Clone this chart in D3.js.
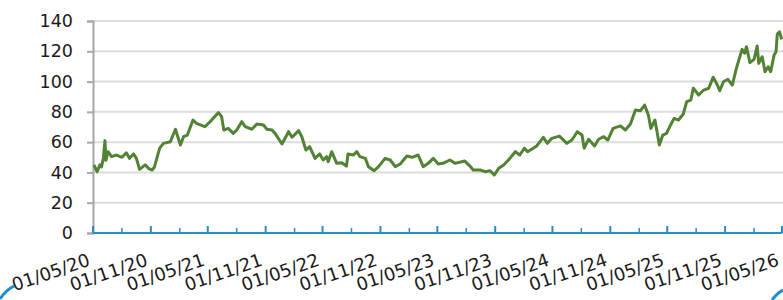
<!DOCTYPE html>
<html>
<head>
<meta charset="utf-8">
<script src="https://cdn.jsdelivr.net/npm/d3@7"></script>
<style>
  body { margin: 0; background: #fff; }
  svg { display: block; font-family: "DejaVu Sans", sans-serif; }
</style>
</head>
<body>
<svg width="783" height="300"></svg>
<script>
// values
let dates = [
  "2020-05-04","2020-05-14","2020-05-23","2020-05-28","2020-06-03","2020-06-08","2020-06-11","2020-06-18","2020-06-29","2020-07-15",
  "2020-08-01","2020-08-15","2020-08-25","2020-09-07","2020-09-16","2020-09-26","2020-10-14","2020-10-24","2020-11-05","2020-11-12",
  "2020-11-29","2020-12-11","2021-01-02","2021-01-18","2021-02-03","2021-02-13","2021-02-25","2021-03-15","2021-03-26","2021-04-22",
  "2021-05-08","2021-06-04","2021-06-14","2021-06-21","2021-07-05","2021-07-21","2021-08-01","2021-08-17","2021-08-28","2021-09-18",
  "2021-10-04","2021-10-25","2021-11-05","2021-11-21","2021-12-01","2021-12-23","2022-01-13","2022-01-24","2022-02-14","2022-02-24",
  "2022-03-09","2022-03-21","2022-04-07","2022-04-22","2022-05-03","2022-05-14","2022-05-19","2022-05-30","2022-06-15","2022-07-01",
  "2022-07-16","2022-07-21","2022-08-07","2022-08-18","2022-08-28","2022-09-14","2022-09-24","2022-10-12","2022-10-26","2022-11-16",
  "2022-12-02","2022-12-18","2023-01-03","2023-01-24","2023-02-10","2023-03-01","2023-03-17","2023-04-02","2023-04-18","2023-05-04",
  "2023-05-19","2023-06-10","2023-06-26","2023-07-27","2023-08-13","2023-08-23","2023-09-14","2023-09-30","2023-10-16","2023-10-29",
  "2023-11-12","2023-11-28","2023-12-13","2024-01-04","2024-01-18","2024-02-02","2024-02-12","2024-03-12","2024-04-02","2024-04-15",
  "2024-04-29","2024-05-23","2024-06-16","2024-07-02","2024-07-19","2024-08-03","2024-08-10","2024-08-24","2024-09-12","2024-09-25",
  "2024-10-11","2024-10-24","2024-11-10","2024-12-03","2024-12-19","2025-01-04","2025-01-20","2025-02-05","2025-02-18","2025-03-02",
  "2025-03-10","2025-03-23","2025-04-06","2025-04-17","2025-04-29","2025-05-10","2025-05-23","2025-06-06","2025-06-21","2025-07-02",
  "2025-07-15","2025-07-23","2025-08-09","2025-08-25","2025-09-10","2025-09-24","2025-10-06","2025-10-15","2025-10-27","2025-11-10",
  "2025-11-24","2025-12-07","2025-12-25","2026-01-02","2026-01-08","2026-01-19","2026-02-01","2026-02-11","2026-02-16","2026-02-27",
  "2026-03-08","2026-03-18","2026-03-26","2026-04-06","2026-04-12","2026-04-16","2026-04-23","2026-04-30"
];
let prices = [
  44.9,40.5,45,43.6,49.3,61,48,53.7,50.4,51.5,
  50,53,49.3,52.2,49.3,42,45,42.7,41.6,43.4,
  56,59.2,60.3,68.5,58.1,63.6,64.7,74.6,72.4,70.2,
  73.5,79.5,76.8,68,69.1,65.8,68,73.5,70.2,68.5,
  72,71.3,68.5,68,65.8,58.8,66.9,63.2,67.6,63.6,
  54.8,57,49.3,52.2,48.2,50.4,47.1,53.7,46,46.4,
  44.2,52.2,51.5,53.7,50.4,49.3,43.8,41.1,43.8,49.3,
  48.2,43.8,45.6,50.9,50,51.5,43.8,46,49.3,45.6,
  46,48.2,46,47.5,44.2,41.6,41.6,40.5,41.1,38.3,
  42.7,44.9,48.2,53.7,51.5,56,53.7,57.5,63.2,59.2,
  62.5,64,59.2,61.4,66.9,64.7,56,61.9,57.5,61.9,
  63.6,61.4,69.1,70.7,68,72,81.2,80.8,84.5,77.9,
  69.1,74.6,58.1,64.7,65.8,70.7,75.7,74.6,78.6,86.7,
  87.8,95.6,91.1,94.4,95.6,102.8,98.4,94,99.9,101.5,
  97.7,108.8,121.3,118.7,123,112.5,114.7,123.5,112,116.4,
  106.5,109.8,106.5,117.6,119.7,131.4,132.9,127.9
];
let yTicks = [0, 20, 40, 60, 80, 100, 120, 140];
let xStart = "2020-05-01", xEnd = "2026-05-01";

let parse = d3.timeParse("%Y-%m-%d"),
    fmt = d3.timeFormat("%d/%m/%y");
let data = dates.map((d, i) => ({date: parse(d), value: prices[i]}));

let svg = d3.select("svg");
let x = d3.scaleTime().domain([parse(xStart), parse(xEnd)]).range([93, 782]);
let y = d3.scaleLinear().domain([0, 140]).range([233, 21]);

// every 6 months from the start date, minor ticks in between
let allTicks = d3.timeMonth.range(parse(xStart), d3.timeDay.offset(parse(xEnd), 1), 3);
let majorTicks = allTicks.filter((d, i) => i % 2 == 0),
    minorTicks = allTicks.filter((d, i) => i % 2 == 1);

// grid
svg.append("g")
  .selectAll("line")
  .data(yTicks.filter(d => d > 0))
  .join("line")
  .attr("x1", 93).attr("x2", 783)
  .attr("y1", d => y(d)).attr("y2", d => y(d))
  .attr("stroke", "#dcdcdc").attr("stroke-width", 2);

// y axis
let yAxis = svg.append("g")
  .attr("transform", "translate(93,0)")
  .call(d3.axisLeft(y).tickValues(yTicks).tickSize(6).tickPadding(14));
yAxis.attr("font-family", null).attr("font-size", null);
yAxis.select(".domain").attr("stroke", "#a8a8a8").attr("stroke-width", 2);
yAxis.selectAll(".tick line").attr("stroke", "#a8a8a8").attr("stroke-width", 2);
yAxis.selectAll("text").style("font-size", "17.5px").attr("fill", "#1a1a1a");

// line
svg.append("path")
  .datum(data)
  .attr("fill", "none")
  .attr("stroke", "#528234")
  .attr("stroke-width", 3)
  .attr("stroke-linejoin", "round")
  .attr("d", d3.line().x(d => x(d.date)).y(d => y(d.value)));

// x axis (ticks point up into the plot)
let xAxis = svg.append("g")
  .attr("transform", "translate(0,233)");
xAxis.append("line")
  .attr("x1", 93).attr("x2", 782)
  .attr("stroke", "#2a8cc6").attr("stroke-width", 2);
xAxis.selectAll(".major")
  .data(majorTicks)
  .join("line").attr("class", "major")
  .attr("x1", d => x(d)).attr("x2", d => x(d))
  .attr("y1", 0).attr("y2", -7)
  .attr("stroke", "#2a8cc6").attr("stroke-width", 2);
xAxis.selectAll(".minor")
  .data(minorTicks)
  .join("line").attr("class", "minor")
  .attr("x1", d => x(d)).attr("x2", d => x(d))
  .attr("y1", 0).attr("y2", -5)
  .attr("stroke", "#2a8cc6").attr("stroke-width", 1.5);
xAxis.selectAll("text")
  .data(majorTicks)
  .join("text")
  .attr("transform", d => `translate(${x(d) - 2},32) rotate(-19)`)
  .attr("text-anchor", "end")
  .style("font-size", "18px")
  .attr("fill", "#1a1a1a")
  .text(d => fmt(d));

// decorative corner strokes
svg.append("path")
  .attr("d", "M0,299 Q6,290 14,286")
  .attr("fill", "none").attr("stroke", "#1b8fd0").attr("stroke-width", 3);
svg.append("path")
  .attr("d", "M772,300 Q777,293 783,290")
  .attr("fill", "none").attr("stroke", "#1b8fd0").attr("stroke-width", 3);
</script>
</body>
</html>
